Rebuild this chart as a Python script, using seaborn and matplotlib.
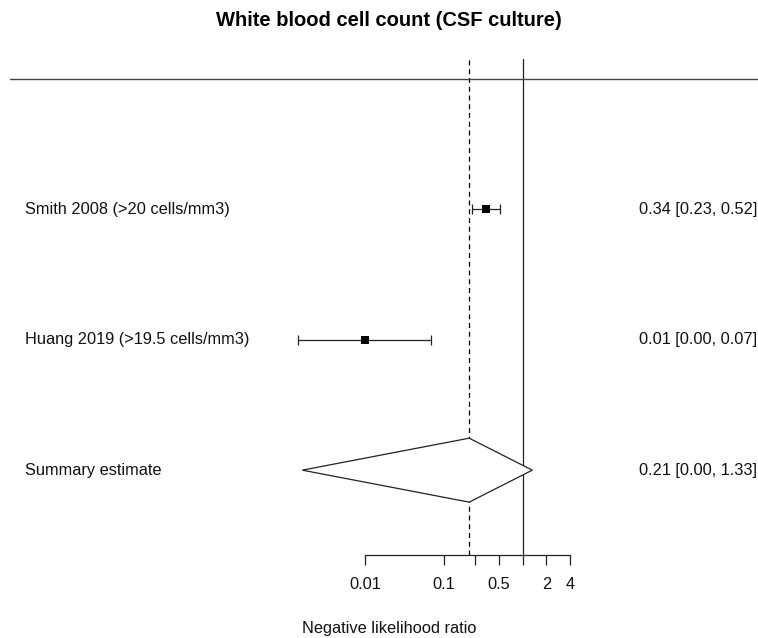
import matplotlib
matplotlib.use("Agg")
import matplotlib.pyplot as plt
import matplotlib.transforms as mtransforms
from matplotlib.patches import Polygon
import numpy as np
import pandas as pd
import seaborn as sns

# study data (negative likelihood ratios)
studies = ["Smith 2008 (>20 cells/mm3)", "Huang 2019 (>19.5 cells/mm3)"]
estimates = [0.34, 0.01]
ci_lower = [0.23, 0.0014]
ci_upper = [0.52, 0.068]
rows = [2, 1]

summary_label = "Summary estimate"
summary_est = 0.21
summary_lower = 0.0016
summary_upper = 1.33
summary_row = 0

tick_values = [0.01, 0.1, 0.25, 0.5, 1, 2, 4]
tick_labels = ["0.01", "0.1", "", "0.5", "", "2", "4"]

title = "White blood cell count (CSF culture)"
xlabel = "Negative likelihood ratio"

sns.set_theme(style="white")
plt.rcParams['font.family'] = ['Liberation Sans', 'DejaVu Sans']

W, H = 758, 638
fig = plt.figure(figsize=(W / 100, H / 100), dpi=100)
# axes spans 0.01 .. 4 horizontally, the axis line at the bottom
left, right, bottom, top = 365, 570, 555, 59
ax = fig.add_axes([left / W, 1 - bottom / H, (right - left) / W, (bottom - top) / H])
ax.set_xscale('log')
ax.set_xlim(0.01, 4)
ax.set_ylim(-0.65, 3.15)

df = pd.DataFrame({"study": studies, "est": estimates, "lo": ci_lower, "hi": ci_upper, "row": rows})

lc = "#222222"
ax.errorbar(df["est"], df["row"],
            xerr=[df["est"] - df["lo"], df["hi"] - df["est"]],
            fmt='none', ecolor=lc, elinewidth=0.9, capsize=3.3, capthick=0.9, clip_on=False)
sns.scatterplot(data=df, x="est", y="row", marker='s', s=30, color='black',
                edgecolor='black', linewidth=0, ax=ax, clip_on=False, zorder=3, legend=False)

diamond = Polygon([[summary_lower, summary_row], [summary_est, summary_row + 0.245],
                   [summary_upper, summary_row], [summary_est, summary_row - 0.245]],
                  closed=True, facecolor='white', edgecolor=lc, linewidth=0.9,
                  clip_on=False, zorder=2)
ax.add_patch(diamond)

ax.axvline(1, color=lc, linewidth=0.9, zorder=1)
ax.axvline(summary_est, color='black', linewidth=0.9, linestyle=(0, (4, 3)), zorder=1)
ax.axhline(3.0, xmin=(10 - left) / (right - left), xmax=(W - left) / (right - left),
           color='#444444', linewidth=1.0, clip_on=False)

# labels left and right
trans = mtransforms.blended_transform_factory(fig.transFigure, ax.transData)
fs = 11.8
for name, r in zip(studies + [summary_label], rows + [summary_row]):
    ax.text(25 / W, r, name, transform=trans, ha='left', va='center', fontsize=fs, color='#111111')
for e, lo, hi, r in zip(estimates + [summary_est], ci_lower + [summary_lower],
                        ci_upper + [summary_upper], rows + [summary_row]):
    ax.text(757 / W, r, f"{e:.2f} [{lo:.2f}, {hi:.2f}]", transform=trans,
            ha='right', va='center', fontsize=fs, color='#111111')

for s in ['top', 'right', 'left']:
    ax.spines[s].set_visible(False)
ax.spines['bottom'].set_color(lc)
ax.spines['bottom'].set_linewidth(0.9)
ax.set_yticks([])
ax.set_ylabel("")
ax.set_xticks(tick_values)
ax.set_xticklabels(tick_labels)
ax.minorticks_off()
ax.tick_params(axis='x', which='major', direction='out', length=7, width=0.9,
               color=lc, pad=9, labelsize=fs, labelcolor='#111111', bottom=True)
ax.set_xlabel(xlabel, fontsize=fs, color='#111111', va='center')
ax.xaxis.set_label_coords((389 - left) / (right - left), -(628 - bottom) / (bottom - top))

fig.text(389 / W, 1 - 20 / H, title, ha='center', va='center', fontsize=14.5,
         fontweight='bold', color='black')

fig.savefig("out.png", dpi=100)
